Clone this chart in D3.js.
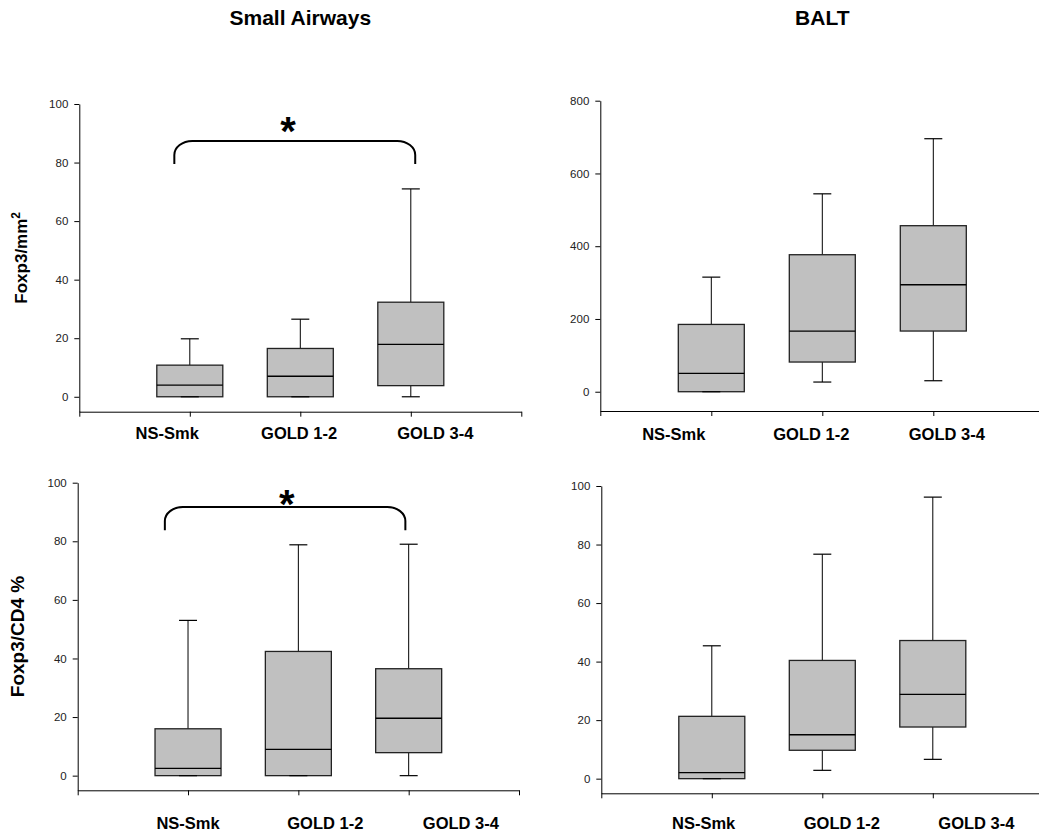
<!DOCTYPE html>
<html>
<head>
<meta charset="utf-8">
<script src="https://cdn.jsdelivr.net/npm/d3@7"></script>
<style>
  body { margin: 0; background: #fff; }
  svg { display: block; font-family: "Liberation Sans", Arial, sans-serif; }
</style>
</head>
<body>
<svg id="chart" width="1039" height="836"></svg>
<script>
// groups on the x axis
const categories = ["NS-Smk", "GOLD 1-2", "GOLD 3-4"]

// Small Airways, Foxp3/mm2
const saCountMin = [0, 0, 0]
const saCountQ1 = [0, 0, 3.8]
const saCountMedian = [4, 7, 17.9]
const saCountQ3 = [10.8, 16.5, 32.3]
const saCountMax = [19.8, 26.5, 71]

// BALT, Foxp3/mm2
const baltCountMin = [0, 26.6, 30.2]
const baltCountQ1 = [0, 81.6, 166.8]
const baltCountMedian = [50.4, 166.8, 294]
const baltCountQ3 = [185, 376.6, 456.4]
const baltCountMax = [315, 544, 695.5]

// Small Airways, Foxp3/CD4 %
const saPctMin = [0, 0, 0]
const saPctQ1 = [0, 0, 7.85]
const saPctMedian = [2.5, 9, 19.6]
const saPctQ3 = [16, 42.4, 36.5]
const saPctMax = [53, 78.8, 79]

// BALT, Foxp3/CD4 %
const baltPctMin = [0, 2.85, 6.6]
const baltPctQ1 = [0, 9.7, 17.65]
const baltPctMedian = [2.05, 15, 28.8]
const baltPctQ3 = [21.3, 40.4, 47.2]
const baltPctMax = [45.4, 76.7, 96.2]

// y tick labels
const pctTicks = [0, 20, 40, 60, 80, 100]
const baltCountTicks = [0, 200, 400, 600, 800]

// significance brackets (x in category units, y in data units)
const saCountSig = { from: 0.86, to: 3.04, low: 79.5, high: 87.4, starAt: 1.89, starY: 94, label: "*" }
const saPctSig = { from: 0.79, to: 2.97, low: 83.8, high: 91.7, starAt: 1.895, starY: 95.8, label: "*" }

const svg = d3.select("#chart")

const panels = [
    {
        title: "Small Airways", yLabel: "Foxp3/mm", yLabelSup: "2", yLabelSize: 17,
        min: saCountMin, q1: saCountQ1, median: saCountMedian, q3: saCountQ3, max: saCountMax,
        ticks: pctTicks, yDomain: [-5.1, 100], sig: saCountSig,
        box: { left: 79.3, right: 521.3, top: 104, bottom: 411.7 },
        labelDy: 27.3, labelDx: [-23.1, -1.7, 24], yLabelX: 27.2
    },
    {
        title: "BALT",
        min: baltCountMin, q1: baltCountQ1, median: baltCountMedian, q3: baltCountQ3, max: baltCountMax,
        ticks: baltCountTicks, yDomain: [-53, 800],
        box: { left: 600.3, right: 1044.3, top: 100.7, bottom: 411 },
        labelDy: 29, labelDx: [-38, -11.5, 13]
    },
    {
        yLabel: "Foxp3/CD4 %", yLabelSize: 19,
        min: saPctMin, q1: saPctQ1, median: saPctMedian, q3: saPctQ3, max: saPctMax,
        ticks: pctTicks, yDomain: [-5, 100], sig: saPctSig,
        box: { left: 77.7, right: 519, top: 482.7, bottom: 790.3 },
        labelDy: 39, labelDx: [-0.5, 26.4, 51.7], yLabelX: 24.4
    },
    {
        min: baltPctMin, q1: baltPctQ1, median: baltPctMedian, q3: baltPctQ3, max: baltPctMax,
        ticks: pctTicks, yDomain: [-5, 100],
        box: { left: 601.3, right: 1043.3, top: 486, bottom: 793.3 },
        labelDy: 36, labelDx: [-8.7, 19, 43.1]
    }
]

const boxWidth = 66
const capWidth = 18

panels.forEach((p) => {
    const xScale = d3.scaleLinear()
        .domain([0, categories.length + 1])
        .range([p.box.left, p.box.right])
    const yScale = d3.scaleLinear()
        .domain(p.yDomain)
        .range([p.box.bottom, p.box.top])

    const g = svg.append("g")

    // y axis
    const yAxis = g.append("g")
        .attr("transform", `translate(${p.box.left},0)`)
        .call(d3.axisLeft(yScale).tickValues(p.ticks).tickSizeOuter(0).tickSizeInner(5).tickPadding(6))
    yAxis.selectAll("text")
        .attr("font-family", "Liberation Sans, Arial, sans-serif")
        .attr("font-size", 11.5)
        .attr("fill", "#222")

    // x axis, ticks at both ends too
    const xAxis = g.append("g")
        .attr("transform", `translate(0,${p.box.bottom})`)
        .call(d3.axisBottom(xScale)
            .tickValues(d3.range(0, categories.length + 2))
            .tickSizeOuter(0).tickSizeInner(5)
            .tickFormat((d) => categories[d - 1] || ""))
    xAxis.selectAll("text")
        .attr("font-family", "Liberation Sans, Arial, sans-serif")
        .attr("font-size", 16.5)
        .attr("font-weight", "bold")
        .attr("fill", "#000")
        .attr("dy", null)
        .attr("y", p.labelDy)
        .attr("x", (d) => p.labelDx[d - 1] || 0)
    g.selectAll(".domain, .tick line").attr("stroke", "#000")

    const idx = d3.range(categories.length)

    // whiskers
    g.selectAll(".whisker-hi").data(idx).enter().append("line")
        .attr("x1", (i) => xScale(i + 1)).attr("x2", (i) => xScale(i + 1))
        .attr("y1", (i) => yScale(p.max[i])).attr("y2", (i) => yScale(p.q3[i]))
        .attr("stroke", "#000").attr("stroke-width", 1)
    g.selectAll(".whisker-lo").data(idx).enter().append("line")
        .attr("x1", (i) => xScale(i + 1)).attr("x2", (i) => xScale(i + 1))
        .attr("y1", (i) => yScale(p.q1[i])).attr("y2", (i) => yScale(p.min[i]))
        .attr("stroke", "#000").attr("stroke-width", 1)

    // boxes
    g.selectAll(".box").data(idx).enter().append("rect")
        .attr("x", (i) => xScale(i + 1) - boxWidth / 2)
        .attr("width", boxWidth)
        .attr("y", (i) => yScale(p.q3[i]))
        .attr("height", (i) => yScale(p.q1[i]) - yScale(p.q3[i]))
        .attr("fill", "#c0c0c0")
        .attr("stroke", "#222")
        .attr("stroke-width", 1.3)

    // caps
    ;[p.min, p.max].forEach((vals) => {
        g.selectAll(".cap").data(idx).enter().append("line")
            .attr("x1", (i) => xScale(i + 1) - capWidth / 2)
            .attr("x2", (i) => xScale(i + 1) + capWidth / 2)
            .attr("y1", (i) => yScale(vals[i])).attr("y2", (i) => yScale(vals[i]))
            .attr("stroke", "#000").attr("stroke-width", 1.2)
    })

    // medians
    g.selectAll(".median").data(idx).enter().append("line")
        .attr("x1", (i) => xScale(i + 1) - boxWidth / 2)
        .attr("x2", (i) => xScale(i + 1) + boxWidth / 2)
        .attr("y1", (i) => yScale(p.median[i])).attr("y2", (i) => yScale(p.median[i]))
        .attr("stroke", "#000").attr("stroke-width", 1.3)

    // title
    if (p.title) {
        g.append("text")
            .text(p.title)
            .attr("x", xScale((categories.length + 1) / 2))
            .attr("y", 25)
            .attr("text-anchor", "middle")
            .attr("font-size", 21)
            .attr("font-weight", "bold")
    }

    // y label
    if (p.yLabel) {
        const cy = (p.box.top + p.box.bottom) / 2
        const lab = g.append("text")
            .attr("transform", `translate(${p.yLabelX},${cy}) rotate(-90)`)
            .attr("text-anchor", "middle")
            .attr("font-size", p.yLabelSize)
            .attr("font-weight", "bold")
        lab.append("tspan").text(p.yLabel)
        if (p.yLabelSup) {
            lab.append("tspan").text(p.yLabelSup)
                .attr("font-size", p.yLabelSize * 0.7)
                .attr("dy", -p.yLabelSize * 0.42)
        }
    }

    // significance bracket
    if (p.sig) {
        const s = p.sig
        const xa = xScale(s.from), xb = xScale(s.to)
        const ylo = yScale(s.low), yhi = yScale(s.high)
        const rx = 18, ry = 14
        g.append("path")
            .attr("d", `M${xa},${ylo} L${xa},${yhi + ry} A${rx},${ry} 0 0 1 ${xa + rx},${yhi}` +
                ` L${xb - rx},${yhi} A${rx},${ry} 0 0 1 ${xb},${yhi + ry} L${xb},${ylo}`)
            .attr("fill", "none")
            .attr("stroke", "#000")
            .attr("stroke-width", 2)
        g.append("text")
            .text(s.label)
            .attr("x", xScale(s.starAt))
            .attr("y", yScale(s.starY) + 23)
            .attr("text-anchor", "middle")
            .attr("font-size", 40)
            .attr("font-weight", "bold")
    }
})
</script>
</body>
</html>
